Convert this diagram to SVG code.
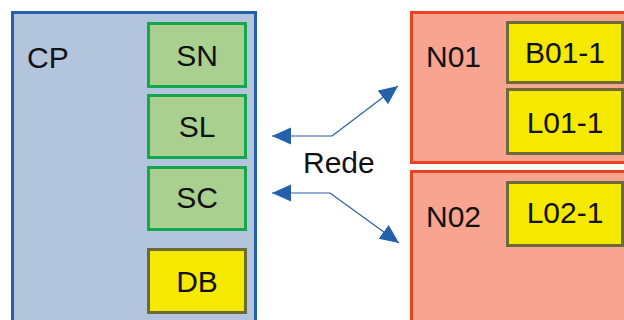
<svg xmlns="http://www.w3.org/2000/svg" width="624" height="320" viewBox="0 0 624 320">
<defs>
<style>
text{font-family:"Liberation Sans",Arial,sans-serif;font-size:30px;fill:#111}
.c{text-anchor:middle}
.cp{fill:#b2c5dc;stroke:#2561ab;stroke-width:3}
.sv{fill:#a9d08f;stroke:#14a84c;stroke-width:3}
.yl{fill:#f5e900;stroke:#6c6a38;stroke-width:3}
.nd{fill:#f7a590;stroke:#ec4224;stroke-width:3}
.ln{fill:none;stroke:#2561ab;stroke-width:1.2}
</style>
<marker id="ah" viewBox="0 0 10 10" refX="10" refY="5" markerWidth="19" markerHeight="19" markerUnits="userSpaceOnUse" orient="auto">
<path d="M0,0.5 L10,5 L0,9.5 z" fill="#2561ab"/>
</marker>
</defs>
<g id="CP">
<rect class="cp" x="12.5" y="12.5" width="243" height="320"/>
<text x="27" y="68">CP</text>
</g>
<g id="SN"><rect class="sv" x="148.5" y="23.5" width="97" height="63"/><text class="c" x="197" y="66">SN</text></g>
<g id="SL"><rect class="sv" x="148.5" y="95.5" width="97" height="62"/><text class="c" x="197" y="137">SL</text></g>
<g id="SC"><rect class="sv" x="148.5" y="167.5" width="97" height="62"/><text class="c" x="197" y="208">SC</text></g>
<g id="DB"><rect class="yl" x="148.5" y="249.5" width="97" height="63"/><text class="c" x="197" y="292">DB</text></g>
<g id="N01">
<rect class="nd" x="411.5" y="12.5" width="230" height="150"/>
<text x="426" y="67">N01</text>
</g>
<g id="B01-1"><rect class="yl" x="507.5" y="22.5" width="115" height="60"/><text class="c" x="565" y="63">B01-1</text></g>
<g id="L01-1"><rect class="yl" x="507.5" y="89.5" width="115" height="64"/><text class="c" x="565" y="133">L01-1</text></g>
<g id="N02">
<rect class="nd" x="411.5" y="171.5" width="230" height="160"/>
<text x="426" y="227">N02</text>
</g>
<g id="L02-1"><rect class="yl" x="507.5" y="182.5" width="115" height="63"/><text class="c" x="565" y="223">L02-1</text></g>
<g id="connectors">
<path class="ln" d="M332,136 L398,86" marker-end="url(#ah)"/>
<path class="ln" d="M332,136 L272,136" marker-end="url(#ah)"/>
<path class="ln" d="M330,193 L399,243" marker-end="url(#ah)"/>
<path class="ln" d="M330,193 L272,193" marker-end="url(#ah)"/>
<text x="303" y="173">Rede</text>
</g>
</svg>
